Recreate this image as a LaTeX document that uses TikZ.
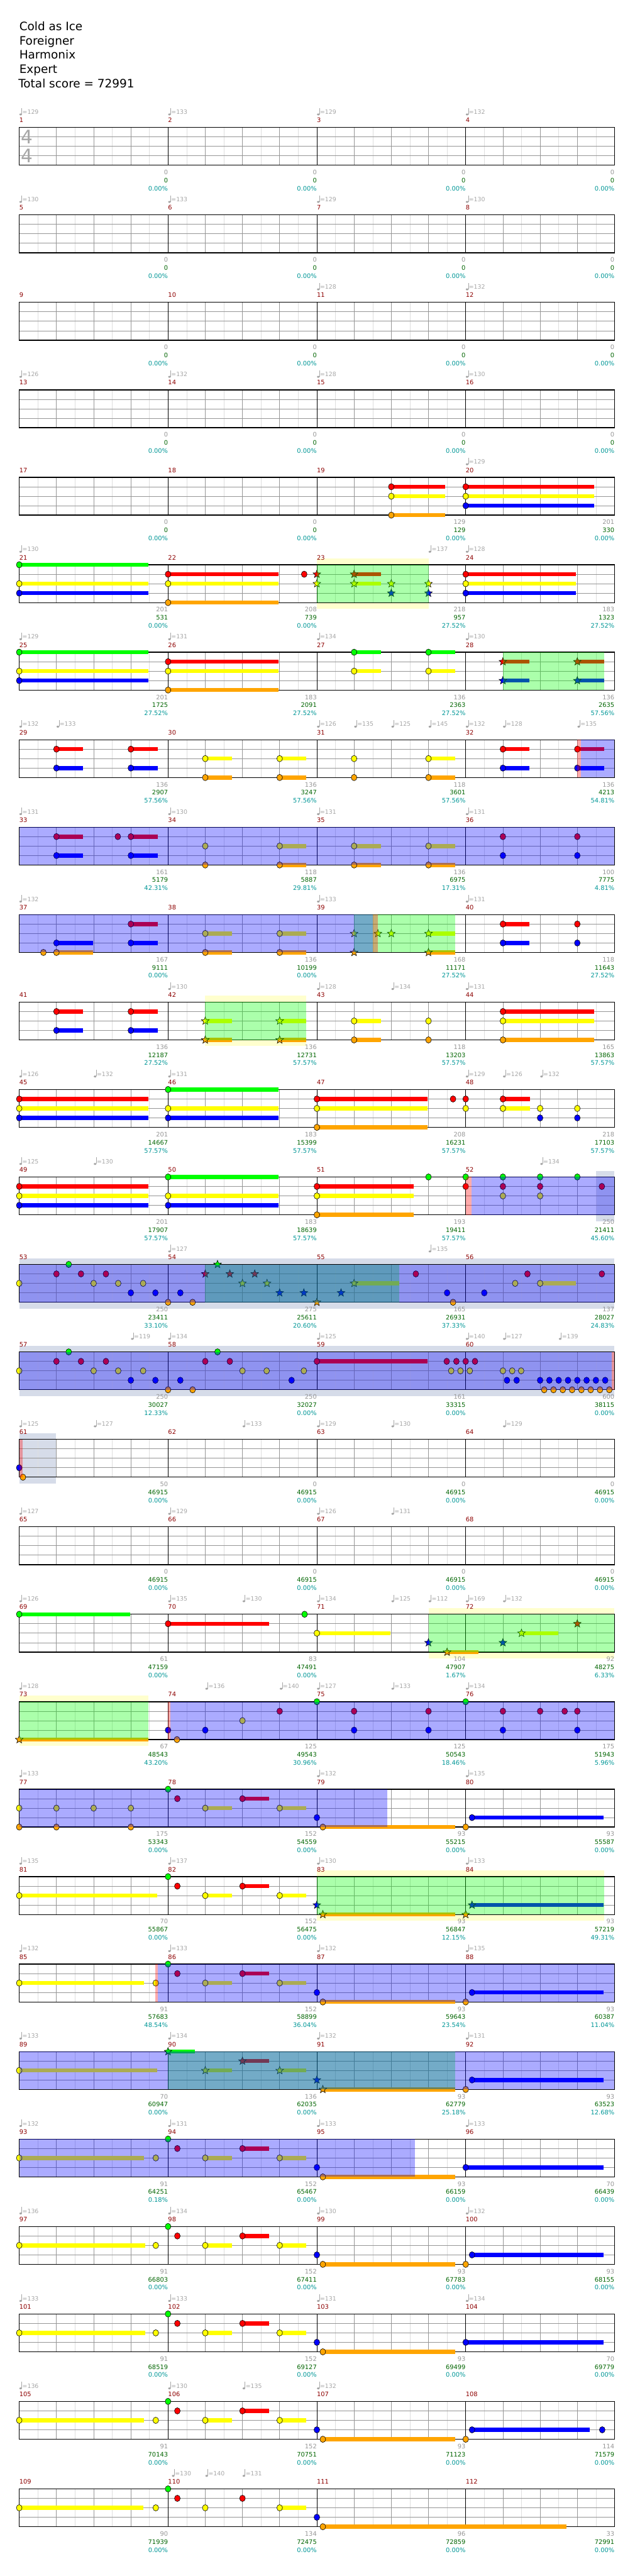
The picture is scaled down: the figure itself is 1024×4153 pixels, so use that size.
\documentclass[tikz,border=0pt]{standalone}
\usepackage{fontspec}
\setmainfont{DejaVu Sans}
\usepackage{xcolor}

\definecolor{fret0}{RGB}{0,255,0}
\definecolor{fret1}{RGB}{255,0,0}
\definecolor{fret2}{RGB}{255,255,0}
\definecolor{fret3}{RGB}{0,0,255}
\definecolor{fret4}{RGB}{255,165,0}
\definecolor{bandsp}{RGB}{255,255,206}
\definecolor{bandsolo}{RGB}{214,220,233}
\definecolor{mnumc}{RGB}{140,0,0}
\definecolor{ptsc}{RGB}{150,150,150}
\definecolor{totc}{RGB}{0,100,0}
\definecolor{pctc}{RGB}{0,150,150}
\definecolor{tempoc}{RGB}{165,165,165}
\definecolor{gridc}{RGB}{150,150,150}
\definecolor{subc}{RGB}{222,222,222}

% one row of four measures
\newcommand{\staff}[1]{%
  \pgfmathsetmacro{\sy}{205.5+141*(#1)}%
  \foreach \k in {0,...,15} \draw[subc, line width=0.5pt] ({61+60*\k},\sy) -- ++(0,61);
  \foreach \k in {1,2,3,5,6,7,9,10,11,13,14,15} \draw[gridc, line width=0.7pt] ({31+60*\k},\sy) -- ++(0,61);
  \foreach \k in {1,2,3} \draw[gridc, line width=0.8pt] (31,{\sy+15.25*\k}) -- ++(960,0);
  \foreach \k in {4,8,12} \draw[black, line width=0.6pt] ({31+60*\k},\sy) -- ++(0,61);
  \draw[black, line width=1.3pt] (31,\sy) rectangle (991,{\sy+61});
}
% gem: row, beat, fret, end of sustain (0 = none)
\newcommand{\gem}[4]{%
  \pgfmathsetmacro{\gemx}{31+60*(#2)}%
  \pgfmathsetmacro{\gemy}{205.5+141*(#1)+15.25*(#3)}%
  \ifdim #4pt>0pt
    \fill[fret#3] (\gemx,{\gemy-3.3}) rectangle ({31+60*(#4)},{\gemy+3.3});
  \fi
  \filldraw[gem, fill=fret#3] (\gemx,\gemy) ellipse [x radius=4.6, y radius=5.1];%
}
\newcommand{\stargem}[4]{%
  \pgfmathsetmacro{\gemx}{31+60*(#2)}%
  \pgfmathsetmacro{\gemy}{205.5+141*(#1)+15.25*(#3)}%
  \ifdim #4pt>0pt
    \fill[fret#3] (\gemx,{\gemy-3.3}) rectangle ({31+60*(#4)},{\gemy+3.3});
  \fi
  \filldraw[gem, fill=fret#3] (\gemx,\gemy) +(270:6.6) -- +(306:2.8) -- +(342:6.6) -- +(18:2.8)
    -- +(54:6.6) -- +(90:2.8) -- +(126:6.6) -- +(162:2.8) -- +(198:6.6) -- +(234:2.8) -- cycle;%
}
% shaded spans: row, from beat, to beat
\newcommand{\odrive}[3]{\fill[odrive] ({31+60*(#2)},{205.5+141*(#1)}) rectangle ({31+60*(#3)},{266.5+141*(#1)});}
\newcommand{\sphrase}[3]{\fill[sphrase] ({31+60*(#2)},{205.5+141*(#1)}) rectangle ({31+60*(#3)},{266.5+141*(#1)});}
\newcommand{\actmark}[3]{\fill[actmark] ({31+60*(#2)},{205.5+141*(#1)}) rectangle ({31+60*(#3)},{266.5+141*(#1)});}
\newcommand{\spband}[3]{%
  \fill[bandsp] ({31+60*(#2)},{195.5+141*(#1)}) rectangle ({31+60*(#3)},{205.5+141*(#1)});
  \fill[bandsp] ({31+60*(#2)},{266.5+141*(#1)}) rectangle ({31+60*(#3)},{276.5+141*(#1)});}
\newcommand{\soloband}[3]{\fill[bandsolo] ({31+60*(#2)},{195.5+141*(#1)}) rectangle ({31+60*(#3)},{276.5+141*(#1)});}

\begin{document}
\begin{tikzpicture}[
    x=1pt, y=-1pt,
    gem/.style={draw=black, line width=0.6pt},
    odrive/.style={fill=blue, fill opacity=0.33},
    sphrase/.style={fill=fret0, fill opacity=0.33},
    actmark/.style={fill=red, fill opacity=0.33},
    hdr/.style={anchor=base west, inner sep=0pt, font=\fontsize{18.7}{22}\selectfont},
    mnum/.style={anchor=base west, inner sep=0pt, text=mnumc, font=\fontsize{10}{12}\selectfont},
    stat/.style={anchor=base east, inner sep=0pt, font=\fontsize{10}{12}\selectfont},
    tempo/.style={anchor=base west, inner sep=0pt, text=tempoc, font=\fontsize{9.5}{11}\selectfont}
]
\useasboundingbox (0,0) rectangle (1024,4153);

% bands outside the staff
\spband{5}{8}{11}
\spband{10}{5}{7.72}
\spband{17}{11}{16}
\spband{18}{0}{3.47}
\spband{20}{8}{15.72}
\soloband{12}{15.5}{16}
\soloband{13}{0}{16}
\soloband{14}{0}{16}
\soloband{15}{0}{0.98}

% staves
\foreach \r in {0,...,27} {\staff{\r}}

% notes, measures 17-20
\foreach \pos/\fret/\tail in {10/1/11.45, 10/2/11.45, 10/4/11.45, 12/1/15.46, 12/2/15.46, 12/3/15.46} {\gem{4}{\pos}{\fret}{\tail}}
% measures 21-24
\foreach \pos/\fret/\tail in {0/0/3.47, 0/2/3.47, 0/3/3.47, 4/1/6.97, 4/2/6.97, 4/4/6.97, 7.66/1/0, 12/1/14.96, 12/2/14.96, 12/3/14.96} {\gem{5}{\pos}{\fret}{\tail}}
\foreach \pos/\fret/\tail in {8/1/0, 8/2/0, 9/1/9.72, 9/2/9.72, 10/2/0, 10/3/0, 11/2/0, 11/3/0} {\stargem{5}{\pos}{\fret}{\tail}}
% measures 25-28
\foreach \pos/\fret/\tail in {0/0/3.47, 0/2/3.47, 0/3/3.47, 4/1/6.97, 4/2/6.97, 4/4/6.97, 9/0/9.72, 9/2/9.72, 11/0/11.72, 11/2/11.72} {\gem{6}{\pos}{\fret}{\tail}}
\foreach \pos/\fret/\tail in {13/1/13.72, 13/3/13.72, 15/1/15.72, 15/3/15.72} {\stargem{6}{\pos}{\fret}{\tail}}
% measures 29-32
\foreach \pos/\fret/\tail in {1/1/1.72, 1/3/1.72, 3/1/3.72, 3/3/3.72, 5/2/5.72, 5/4/5.72, 7/2/7.72, 7/4/7.72, 9/2/0, 9/4/0, 11/2/11.72, 11/4/11.72, 13/1/13.72, 13/3/13.72, 15/1/15.72, 15/3/15.72} {\gem{7}{\pos}{\fret}{\tail}}
% measures 33-36
\foreach \pos/\fret/\tail in {1/1/1.72, 1/3/1.72, 2.65/1/0, 3/1/3.72, 3/3/3.72, 5/2/0, 5/4/0, 7/2/7.72, 7/4/7.72, 9/2/9.72, 9/4/9.72, 11/2/11.72, 11/4/11.72, 13/1/0, 13/3/0, 15/1/0, 15/3/0} {\gem{8}{\pos}{\fret}{\tail}}
% measures 37-40
\foreach \pos/\fret/\tail in {0.65/4/0, 1/3/1.98, 1/4/1.98, 3/1/3.72, 3/3/3.72, 5/2/5.72, 5/4/5.72, 7/2/7.72, 7/4/7.72, 13/1/13.72, 13/3/13.72, 15/1/0, 15/3/0} {\gem{9}{\pos}{\fret}{\tail}}
\foreach \pos/\fret/\tail in {9/2/0, 9/4/0, 9.64/2/0, 10/2/0, 11/2/11.72, 11/4/11.72} {\stargem{9}{\pos}{\fret}{\tail}}
% measures 41-44
\foreach \pos/\fret/\tail in {1/1/1.72, 1/3/1.72, 3/1/3.72, 3/3/3.72, 9/2/9.72, 9/4/9.72, 11/2/0, 11/4/0, 13/1/15.46, 13/2/15.46, 13/4/15.46} {\gem{10}{\pos}{\fret}{\tail}}
\foreach \pos/\fret/\tail in {5/2/5.72, 5/4/5.72, 7/2/7.72, 7/4/7.72} {\stargem{10}{\pos}{\fret}{\tail}}
% measures 45-48
\foreach \pos/\fret/\tail in {0/1/3.47, 0/2/3.47, 0/3/3.47, 4/0/6.97, 4/2/6.97, 4/3/6.97, 8/1/10.98, 8/2/10.98, 8/4/10.98, 11.66/1/0, 12/1/0, 12/2/0, 13/1/13.73, 13/2/13.73, 14/2/0, 14/3/0, 15/2/0, 15/3/0} {\gem{11}{\pos}{\fret}{\tail}}
% measures 49-52
\foreach \pos/\fret/\tail in {0/1/3.47, 0/2/3.47, 0/3/3.47, 4/0/6.97, 4/2/6.97, 4/3/6.97, 8/1/10.6, 8/2/10.6, 8/4/10.6, 11/0/0, 12/0/0, 12/1/0, 13/0/0, 13/1/0, 13/2/0, 14/0/0, 14/1/0, 14/2/0, 15/0/0, 15.66/1/0} {\gem{12}{\pos}{\fret}{\tail}}
% measures 53-56
\foreach \pos/\fret/\tail in {0/2/0, 1/1/0, 1.33/0/0, 1.66/1/0, 2/2/0, 2.33/1/0, 2.66/2/0, 3/3/0, 3.33/2/0, 3.66/3/0, 4/4/0, 4.33/3/0, 4.66/4/0, 10.66/1/0, 11.5/3/0, 11.66/4/0, 12.5/3/0, 13.33/2/0, 13.66/1/0, 14/2/14.96, 15.66/1/0} {\gem{13}{\pos}{\fret}{\tail}}
\foreach \pos/\fret/\tail in {5/1/0, 5.33/0/0, 5.66/1/0, 6/2/0, 6.33/1/0, 6.66/2/0, 7/3/0, 7.65/3/0, 8/4/0, 8.65/3/0, 9/2/10.22} {\stargem{13}{\pos}{\fret}{\tail}}
% measures 57-60
\foreach \pos/\fret/\tail in {0/2/0, 1/1/0, 1.33/0/0, 1.66/1/0, 2/2/0, 2.33/1/0, 2.66/2/0, 3/3/0, 3.33/2/0, 3.66/3/0, 4/4/0, 4.33/3/0, 4.66/4/0, 5/1/0, 5.33/0/0, 5.66/1/0, 6/2/0, 6.65/2/0, 7.32/3/0, 7.65/2/0, 8/1/10.98, 11.49/1/0, 11.75/1/0, 12/1/0, 12.25/1/0, 11.61/2/0, 11.86/2/0, 12.11/2/0, 13/2/0, 13.25/2/0, 13.49/2/0, 13.11/3/0, 13.37/3/0} {\gem{14}{\pos}{\fret}{\tail}}
\foreach \pos in {14,14.25,14.5,14.75,15,15.25,15.5,15.75} {\gem{14}{\pos}{3}{0}}
\foreach \pos in {14.11,14.36,14.61,14.86,15.11,15.36,15.61,15.86} {\gem{14}{\pos}{4}{0}}
% measures 61-64
\gem{15}{0}{3}{0}
\gem{15}{0.1}{4}{0}
% measures 69-72
\foreach \pos/\fret/\tail in {0/0/2.98, 4/1/6.71, 7.67/0/0, 8/2/9.98} {\gem{17}{\pos}{\fret}{\tail}}
\foreach \pos/\fret/\tail in {11/3/0, 11.5/4/12.35, 13/3/0, 13.5/2/14.49, 15/1/0} {\stargem{17}{\pos}{\fret}{\tail}}
% measures 73-76
\stargem{18}{0}{4}{3.47}
\foreach \pos/\fret/\tail in {4/3/0, 4.24/4/0, 5/3/0, 6/2/0, 7/1/0, 8/0/0, 9/1/0, 9/3/0, 11/1/0, 11/3/0, 12/0/0, 13/1/0, 13/3/0, 14/1/0, 14.66/1/0, 15/1/0, 15/3/0} {\gem{18}{\pos}{\fret}{\tail}}
% measures 77-80
\foreach \pos/\fret/\tail in {0/2/0, 0/4/0, 1/2/0, 1/4/0, 2/2/0, 3/2/0, 3/4/0, 4/0/0, 4.25/1/0, 5/2/5.72, 6/1/6.72, 7/2/7.72, 8/3/0, 8.16/4/11.71, 12/4/0, 12.17/3/15.71} {\gem{19}{\pos}{\fret}{\tail}}
% measures 81-84
\foreach \pos/\fret/\tail in {0/2/3.71, 4/0/0, 4.25/1/0, 5/2/5.72, 6/1/6.72, 7/2/7.72} {\gem{20}{\pos}{\fret}{\tail}}
\foreach \pos/\fret/\tail in {8/3/0, 8.16/4/11.71, 12/4/0, 12.17/3/15.71} {\stargem{20}{\pos}{\fret}{\tail}}
% measures 85-88
\foreach \pos/\fret/\tail in {0/2/3.36, 3.67/2/0, 4/0/0, 4.25/1/0, 5/2/5.72, 6/1/6.72, 7/2/7.72, 8/3/0, 8.16/4/11.71, 12/4/0, 12.17/3/15.71} {\gem{21}{\pos}{\fret}{\tail}}
% measures 89-92
\foreach \pos/\fret/\tail in {0/2/3.71, 12/4/0, 12.17/3/15.71} {\gem{22}{\pos}{\fret}{\tail}}
\foreach \pos/\fret/\tail in {4/0/4.73, 5/2/5.72, 6/1/6.72, 7/2/7.72, 8/3/0, 8.16/4/11.71} {\stargem{22}{\pos}{\fret}{\tail}}
% measures 93-96
\foreach \pos/\fret/\tail in {0/2/3.36, 3.67/2/0, 4/0/0, 4.25/1/0, 5/2/5.72, 6/1/6.72, 7/2/7.72, 8/3/0, 8.16/4/11.71, 12/3/15.71} {\gem{23}{\pos}{\fret}{\tail}}
% measures 97-100
\foreach \pos/\fret/\tail in {0/2/3.38, 3.67/2/0, 4/0/0, 4.25/1/0, 5/2/5.72, 6/1/6.72, 7/2/7.72, 8/3/0, 8.16/4/11.71, 12/4/0, 12.17/3/15.71} {\gem{24}{\pos}{\fret}{\tail}}
% measures 101-104
\foreach \pos/\fret/\tail in {0/2/3.38, 3.67/2/0, 4/0/0, 4.25/1/0, 5/2/5.72, 6/1/6.72, 7/2/7.72, 8/3/0, 8.16/4/11.71, 12/3/15.71} {\gem{25}{\pos}{\fret}{\tail}}
% measures 105-108
\foreach \pos/\fret/\tail in {0/2/3.36, 3.67/2/0, 4/0/0, 4.25/1/0, 5/2/5.72, 6/1/6.72, 7/2/7.72, 8/3/0, 8.16/4/11.71, 12/4/0, 12.17/3/15.34, 15.67/3/0} {\gem{26}{\pos}{\fret}{\tail}}
% measures 109-112
\foreach \pos/\fret/\tail in {0/2/3.34, 3.67/2/0, 4/0/0, 4.25/1/0, 5/2/0, 6/1/0, 7/2/7.72, 8/3/0, 8.16/4/14.71} {\gem{27}{\pos}{\fret}{\tail}}

% star phrases
\sphrase{5}{8}{11}
\sphrase{6}{13}{15.72}
\sphrase{9}{9}{11.72}
\sphrase{10}{5}{7.72}
\sphrase{13}{5}{10.22}
\sphrase{17}{11}{16}
\sphrase{18}{0}{3.47}
\sphrase{20}{8}{15.72}
\sphrase{22}{4}{11.72}

% overdrive
\odrive{7}{15.1}{16}
\odrive{8}{0}{16}
\odrive{9}{0}{9.51}
\odrive{12}{12.16}{16}
\odrive{13}{0}{16}
\odrive{14}{0}{15.93}
\odrive{18}{4.07}{16}
\odrive{19}{0}{9.89}
\odrive{21}{3.72}{16}
\odrive{22}{0}{16}
\odrive{23}{0}{10.64}

% activation marks
\actmark{7}{15}{15.1}
\actmark{9}{9.51}{9.64}
\actmark{12}{12}{12.16}
\actmark{14}{15.93}{16}
\actmark{15}{0}{0.1}
\actmark{18}{4}{4.07}
\actmark{21}{3.65}{3.72}

% header
\node[hdr] (song) at (31,49) {Cold as Ice};
\node[hdr] (artist) at (31,72) {Foreigner};
\node[hdr] (charter) at (31,95) {Harmonix};
\node[hdr] (level) at (31,118) {Expert};
\node[hdr] (score) at (29.5,141) {Total score = 72991};

% time signature
\node[inner sep=0pt, text=black!35, font=\fontsize{30}{30}\selectfont] (tsnum) at (44,221) {4};
\node[inner sep=0pt, text=black!35, font=\fontsize{30}{30}\selectfont] (tsden) at (44,251) {4};

% measure numbers
\foreach \m in {1,...,112} {
  \pgfmathtruncatemacro{\rr}{(\m-1)/4}
  \pgfmathtruncatemacro{\cc}{\m-1-4*\rr}
  \node[mnum] (mnum-\m) at ({31+240*\cc},{197.5+141*\rr}) {\m};
}

% tempo changes
\foreach \r/\pos/\bpm [count=\i] in {0/0/129, 0/4/133, 0/8/129, 0/12/132, 1/0/130, 1/4/133, 1/8/129, 1/12/130,
  2/8/128, 2/12/132, 3/0/126, 3/4/132, 3/8/128, 3/12/130, 4/12/129, 5/0/130, 5/11/137, 5/12/128,
  6/0/129, 6/4/131, 6/8/134, 6/12/130, 7/0/132, 7/1/133, 7/8/126, 7/9/135, 7/10/125, 7/11/145, 7/12/132, 7/13/128, 7/15/135,
  8/0/131, 8/4/130, 8/8/131, 8/12/131, 9/0/132, 9/8/133, 9/12/131, 10/4/130, 10/8/128, 10/10/134, 10/12/131,
  11/0/126, 11/2/132, 11/4/131, 11/12/129, 11/13/126, 11/14/132, 12/0/125, 12/2/130, 12/14/134, 13/4/127, 13/11/135,
  14/3/119, 14/4/134, 14/8/125, 14/12/140, 14/13/127, 14/14.5/139, 15/0/125, 15/2/127, 15/6/133, 15/8/129, 15/10/130, 15/13/129,
  16/0/127, 16/4/129, 16/8/126, 16/10/131, 17/0/126, 17/4/135, 17/6/130, 17/8/134, 17/10/125, 17/11/112, 17/12/169, 17/13/132,
  18/0/128, 18/5/136, 18/7/140, 18/8/127, 18/10/133, 18/12/134, 19/0/133, 19/8/132, 19/12/135,
  20/0/135, 20/4/137, 20/8/130, 20/12/133, 21/0/132, 21/4/133, 21/8/132, 21/12/135,
  22/0/133, 22/4/134, 22/8/132, 22/12/131, 23/0/132, 23/4/131, 23/8/133, 23/12/133,
  24/0/136, 24/4/134, 24/8/130, 24/12/132, 25/0/133, 25/4/133, 25/8/131, 25/12/134,
  26/0/136, 26/4/130, 26/6/135, 26/8/132, 27/4.1/130, 27/5/140, 27/6/131} {
  \pgfmathsetmacro{\tx}{31+60*\pos}
  \pgfmathsetmacro{\ty}{205.5+141*\r}
  \fill[tempoc] ({\tx+2.3},{\ty-21}) ellipse [x radius=2.1, y radius=1.6];
  \draw[tempoc, line width=0.6pt] ({\tx+4.2},{\ty-21.3}) -- ({\tx+4.2},{\ty-31.5});
  \node[tempo] (bpm-\i) at ({\tx+5},{\ty-21.5}) {=\bpm};
}

% measure scores
\foreach \m in {1,...,16} {
  \pgfmathtruncatemacro{\rr}{(\m-1)/4}
  \pgfmathtruncatemacro{\cc}{\m-1-4*\rr}
  \node[stat, text=ptsc] (pts-\m) at ({31+240*(\cc+1)},{281.5+141*\rr}) {0};
  \node[stat, text=totc] (tot-\m) at ({31+240*(\cc+1)},{294.5+141*\rr}) {0};
  \node[stat, text=pctc] (pct-\m) at ({31+240*(\cc+1)},{307.5+141*\rr}) {0.00\%};
}
\foreach \m/\pts/\tot/\pct in {17/0/0/0.00, 18/0/0/0.00, 19/129/129/0.00, 20/201/330/0.00,
  21/201/531/0.00, 22/208/739/0.00, 23/218/957/27.52, 24/183/1323/27.52,
  25/201/1725/27.52, 26/183/2091/27.52, 27/136/2363/27.52, 28/136/2635/57.56,
  29/136/2907/57.56, 30/136/3247/57.56, 31/118/3601/57.56, 32/136/4213/54.81,
  33/161/5179/42.31, 34/118/5887/29.81, 35/136/6975/17.31, 36/100/7775/4.81,
  37/167/9111/0.00, 38/136/10199/0.00, 39/168/11171/27.52, 40/118/11643/27.52,
  41/136/12187/27.52, 42/136/12731/57.57, 43/118/13203/57.57, 44/165/13863/57.57,
  45/201/14667/57.57, 46/183/15399/57.57, 47/208/16231/57.57, 48/218/17103/57.57,
  49/201/17907/57.57, 50/183/18639/57.57, 51/193/19411/57.57, 52/250/21411/45.60,
  53/250/23411/33.10, 54/275/25611/20.60, 55/165/26931/37.33, 56/137/28027/24.83,
  57/250/30027/12.33, 58/250/32027/0.00, 59/161/33315/0.00, 60/600/38115/0.00,
  61/50/46915/0.00, 62/0/46915/0.00, 63/0/46915/0.00, 64/0/46915/0.00,
  65/0/46915/0.00, 66/0/46915/0.00, 67/0/46915/0.00, 68/0/46915/0.00,
  69/61/47159/0.00, 70/83/47491/0.00, 71/104/47907/1.67, 72/92/48275/6.33,
  73/67/48543/43.20, 74/125/49543/30.96, 75/125/50543/18.46, 76/175/51943/5.96,
  77/175/53343/0.00, 78/152/54559/0.00, 79/93/55215/0.00, 80/93/55587/0.00,
  81/70/55867/0.00, 82/152/56475/0.00, 83/93/56847/12.15, 84/93/57219/49.31,
  85/91/57683/48.54, 86/152/58899/36.04, 87/93/59643/23.54, 88/93/60387/11.04,
  89/70/60947/0.00, 90/136/62035/0.00, 91/93/62779/25.18, 92/93/63523/12.68,
  93/91/64251/0.18, 94/152/65467/0.00, 95/93/66159/0.00, 96/70/66439/0.00,
  97/91/66803/0.00, 98/152/67411/0.00, 99/93/67783/0.00, 100/93/68155/0.00,
  101/91/68519/0.00, 102/152/69127/0.00, 103/93/69499/0.00, 104/70/69779/0.00,
  105/91/70143/0.00, 106/152/70751/0.00, 107/93/71123/0.00, 108/114/71579/0.00,
  109/90/71939/0.00, 110/134/72475/0.00, 111/96/72859/0.00, 112/33/72991/0.00} {
  \pgfmathtruncatemacro{\rr}{(\m-1)/4}
  \pgfmathtruncatemacro{\cc}{\m-1-4*\rr}
  \node[stat, text=ptsc] (pts-\m) at ({31+240*(\cc+1)},{281.5+141*\rr}) {\pts};
  \node[stat, text=totc] (tot-\m) at ({31+240*(\cc+1)},{294.5+141*\rr}) {\tot};
  \node[stat, text=pctc] (pct-\m) at ({31+240*(\cc+1)},{307.5+141*\rr}) {\pct\%};
}
\end{tikzpicture}
\end{document}
